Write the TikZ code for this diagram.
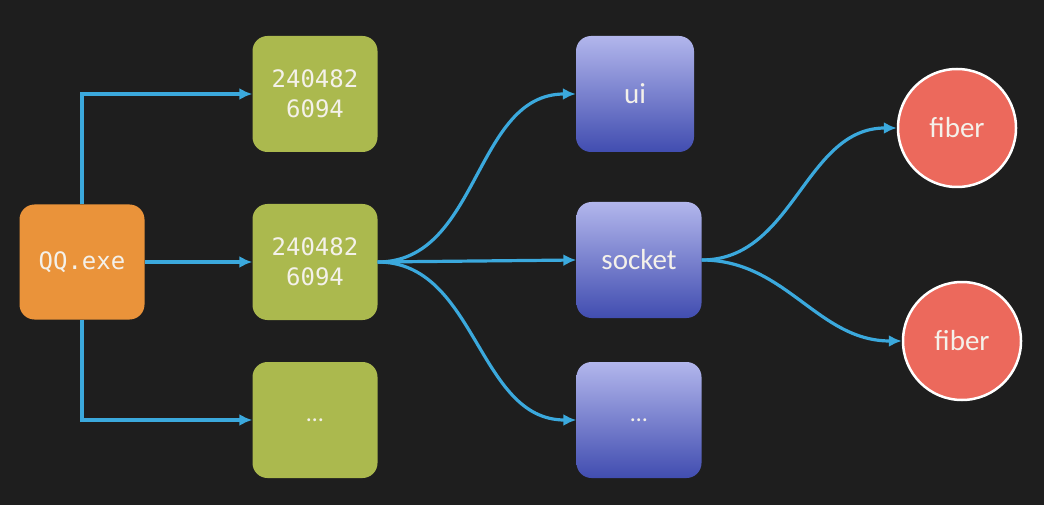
\documentclass[tikz,border=0pt]{standalone}
\usepackage{fontspec}
\setmainfont{Carlito}
\newfontfamily\monofont{DejaVu Sans Mono}
\usetikzlibrary{arrows.meta}

\definecolor{board}{HTML}{1E1E1E}
\definecolor{qqorange}{HTML}{EA933A}
\definecolor{pidgreen}{HTML}{ABB94E}
\definecolor{thrtop}{HTML}{B2B6EC}
\definecolor{thrmid}{HTML}{8C92DA}
\definecolor{thrbot}{HTML}{414DB0}
\definecolor{fibred}{HTML}{EC695C}
\definecolor{wire}{HTML}{3BA9DD}
\definecolor{chalk}{HTML}{F4F1EA}

\tikzset{
    proc/.style={rounded corners=15pt, fill=qqorange, minimum width=125pt, minimum height=115pt, text=chalk, font=\monofont\fontsize{24}{30}\selectfont, align=center},
    pid/.style={proc, fill=pidgreen, minimum height=116pt},
    thr/.style={rounded corners=15pt, top color=thrtop, middle color=thrmid, bottom color=thrbot, minimum width=125pt, minimum height=116pt, text=chalk, font=\fontsize{29}{34}\selectfont},
    fib/.style={circle, fill=fibred, draw=white, line width=2.5pt, minimum size=118pt, text=chalk, font=\fontsize{29}{34}\selectfont},
    link/.style={draw=wire, line width=3.2pt, -{Latex[length=13pt,width=12pt]}},
}

\begin{document}
\begin{tikzpicture}[x=1pt,y=-1pt]
    \useasboundingbox (0,0) rectangle (1044,505);
    \fill[board] (0,0) rectangle (1044,505);

    % process and its pids
    \node[proc] at (82,262) (qq) {QQ.exe};
    \node[pid] at (315,94) (pidtop) {240482\\6094};
    \node[pid] at (315,262) (pidmid) {240482\\6094};
    \node[pid] at (315,420) (pidbot) {\rmfamily\fontsize{24}{28}\selectfont …};

    % threads
    \node[thr, minimum width=118pt] at (635,94) (ui) {ui};
    \node[thr] at (639,260) (socket) {socket};
    \node[thr] at (639,420) (thrdots) {\fontsize{24}{28}\selectfont …};

    % fibers
    \node[fib] at (957,128) (fibtop) {fiber};
    \node[fib] at (962,341) (fibbot) {fiber};

    \draw[link] (qq.north) |- (pidtop.west);
    \draw[link] (qq.east) -- (pidmid.west);
    \draw[link] (qq.south) |- (pidbot.west);

    \draw[link] (pidmid.east) to[out=0,in=180] (ui.west);
    \draw[link] (pidmid.east) -- (socket.west);
    \draw[link] (pidmid.east) to[out=0,in=180] (thrdots.west);

    \draw[link] (socket.east) to[out=0,in=180] (fibtop.west);
    \draw[link] (socket.east) to[out=0,in=180] (fibbot.west);
\end{tikzpicture}
\end{document}
